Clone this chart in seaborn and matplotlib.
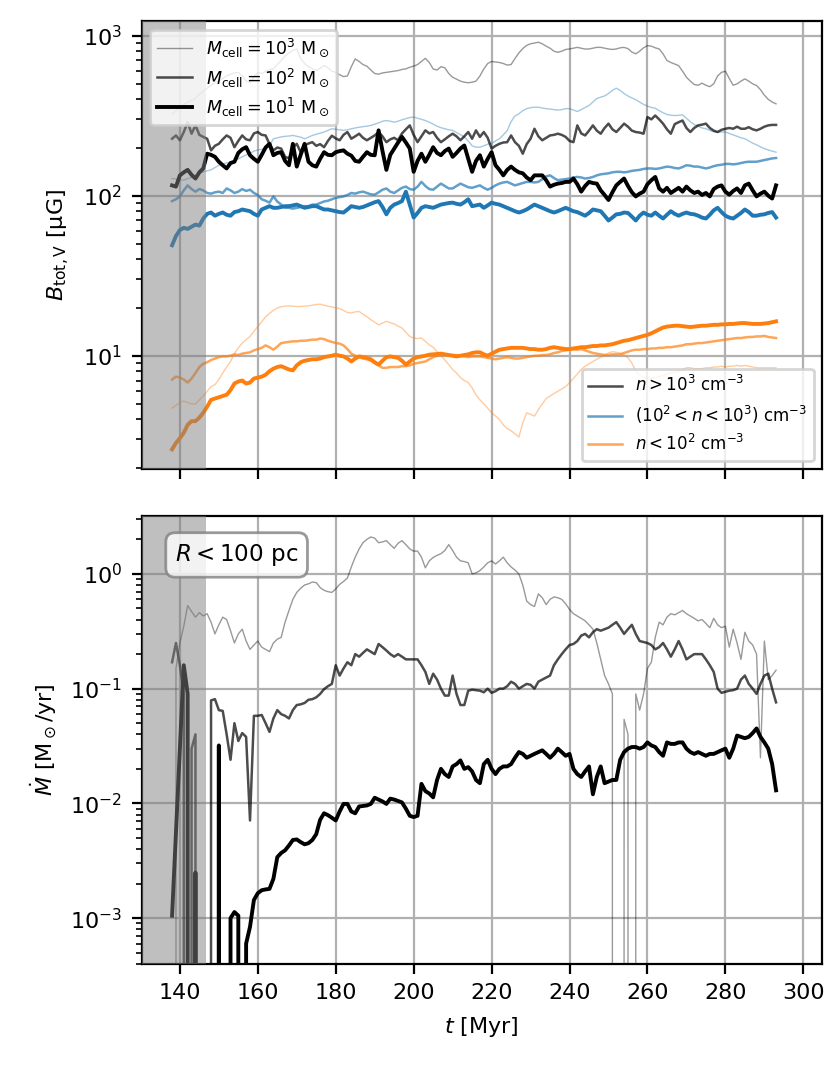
import numpy as np
import matplotlib
matplotlib.use("Agg")
import matplotlib.pyplot as plt
import seaborn as sns
from matplotlib.lines import Line2D

# snapshot times [Myr]
t = np.arange(138, 294)

# B_tot,V [uG] for n > 1e3 cm^-3, one list per cell mass
b_hi_1e3 = [325, 340, 360, 370, 385, 395, 405, 430, 450, 470,
            490, 510, 525, 540, 560, 575, 585, 590, 560, 520,
            510, 550, 590, 580, 600, 615, 620, 660, 700, 745,
            780, 810, 826, 720, 670, 640, 620, 605, 625, 650,
            630, 600, 590, 570, 555, 560, 640, 716, 690, 660,
            645, 610, 580, 575, 585, 590, 595, 600, 605, 615,
            620, 635, 645, 660, 690, 722, 680, 620, 610, 640,
            630, 580, 550, 535, 520, 512, 508, 512, 520, 560,
            620, 670, 690, 685, 680, 670, 655, 660, 720, 780,
            830, 870, 890, 900, 910, 890, 860, 835, 800, 787,
            800, 820, 826, 835, 845, 835, 825, 826, 835, 845,
            845, 835, 826, 820, 826, 840, 845, 830, 790, 770,
            800, 840, 867, 860, 840, 826, 770, 700, 680, 665,
            650, 600, 550, 520, 495, 490, 505, 490, 480, 500,
            560, 590, 600, 540, 490, 500, 520, 537, 520, 500,
            488, 460, 425, 400, 385, 375]
b_hi_1e2 = [227, 238, 222, 250, 288, 244, 275, 240, 233, 227,
            192, 205, 211, 225, 238, 230, 201, 220, 238, 225,
            222, 245, 250, 240, 238, 210, 192, 200, 197, 175,
            171, 200, 211, 187, 206, 212, 216, 205, 210, 201,
            220, 237, 228, 222, 240, 250, 227, 235, 244, 230,
            222, 230, 238, 250, 235, 216, 225, 230, 222, 245,
            260, 275, 240, 216, 235, 256, 245, 250, 230, 216,
            225, 235, 244, 235, 222, 235, 250, 227, 256, 233,
            250, 230, 197, 205, 211, 215, 216, 238, 216, 205,
            183, 210, 227, 262, 235, 222, 230, 238, 240, 244,
            240, 233, 220, 216, 275, 245, 238, 255, 275, 255,
            244, 265, 282, 260, 250, 265, 282, 270, 255, 250,
            248, 244, 310, 300, 317, 300, 282, 260, 244, 280,
            288, 295, 265, 250, 265, 275, 278, 282, 265, 255,
            250, 258, 262, 265, 262, 270, 262, 262, 268, 260,
            256, 262, 270, 275, 277, 277]
b_hi_1e1 = [116, 114, 134, 140, 145, 135, 128, 140, 148, 183,
            180, 175, 163, 155, 148, 160, 163, 185, 195, 201,
            179, 170, 163, 180, 200, 211, 179, 185, 187, 165,
            155, 211, 152, 180, 211, 163, 155, 152, 170, 187,
            180, 179, 187, 190, 192, 183, 178, 165, 163, 175,
            187, 180, 179, 256, 190, 145, 180, 197, 215, 233,
            215, 197, 141, 165, 183, 163, 180, 201, 185, 179,
            190, 197, 175, 185, 197, 206, 170, 141, 165, 179,
            152, 170, 187, 155, 145, 134, 145, 152, 145, 140,
            138, 130, 125, 134, 134, 134, 125, 114, 117, 119,
            120, 122, 122, 128, 118, 106, 115, 122, 120, 119,
            108, 101, 94, 105, 116, 122, 128, 115, 105, 99,
            103, 106, 118, 125, 131, 111, 106, 112, 104, 108,
            112, 106, 114, 108, 104, 106, 101, 104, 99, 110,
            114, 116, 106, 101.5, 107, 111, 104, 116, 119, 108,
            99, 103, 106, 100, 96, 116]

# 1e2 < n < 1e3 cm^-3
b_mid_1e3 = [128, 127, 126, 125, 128, 130, 134, 138, 141, 143,
             145, 150, 155, 158, 160, 162, 165, 170, 175, 180,
             184, 190, 193, 195, 197, 205, 227, 230, 233, 235,
             236, 238, 235, 232, 227, 232, 238, 242, 246, 250,
             256, 262, 260, 258, 256, 258, 262, 265, 268, 270,
             272, 275, 280, 285, 292, 295, 292, 288, 292, 298,
             303, 308, 310, 305, 300, 295, 288, 280, 272, 266,
             262, 258, 256, 248, 240, 233, 220, 205, 201, 201,
             205, 210, 212, 220, 227, 240, 255, 290, 315, 325,
             340, 350, 355, 357, 357, 353, 350, 348, 345, 343,
             345, 350, 350, 343, 336, 345, 356, 366, 385, 405,
             413, 420, 435, 455, 470, 455, 435, 420, 408, 398,
             385, 372, 363, 356, 352, 340, 330, 322, 318, 317,
             318, 320, 305, 290, 278, 272, 265, 262, 256, 251,
             250, 250, 250, 245, 240, 235, 230, 227, 220, 213,
             208, 202, 197, 193, 190, 187]
b_mid_1e2 = [92.5, 95, 99, 108, 116, 110, 106, 110, 108, 104,
             103, 105, 106, 104, 111, 108, 104, 106, 110, 107,
             109, 104, 101, 95, 93, 90.5, 99, 92, 88, 84,
             84, 83, 84, 85, 86, 86, 88, 88, 90, 92,
             93, 95, 97, 98, 99, 101, 104, 103, 105, 106,
             104, 102, 101.5, 105, 109, 111, 106, 104, 108, 112,
             114, 110, 109, 114, 122, 115, 110, 109, 114, 119,
             115, 111, 111, 115, 119, 116, 113, 112, 114, 116,
             112, 109, 112, 116, 119, 121, 122, 119, 116, 118,
             120, 122, 122, 121, 122, 127, 132, 134, 129, 125,
             126, 127, 128, 130, 131, 130, 128, 129, 131, 134,
             136, 137, 138, 140, 141, 141, 140, 141, 143, 144,
             145, 147, 148, 148, 147, 148, 150, 152, 151, 149,
             148, 151, 155, 154, 152, 152, 150, 148, 150, 153,
             155, 156, 158, 158, 157, 158, 160, 162, 163, 163,
             163, 165, 167, 169, 171, 172]
b_mid_1e1 = [49, 56, 61, 63, 62, 64, 66, 65, 72, 77,
             78.5, 75, 77, 78.5, 76, 75, 79, 80, 82, 81,
             80, 77, 75, 82, 84, 86, 84, 84, 85, 86,
             86, 87, 88, 86, 84, 85, 86, 86, 84, 82,
             82, 81, 80, 79, 78.5, 82, 86, 85, 84, 85,
             87, 89, 91, 92.5, 85, 76.5, 84, 88, 90, 92.5,
             106, 88, 73, 78, 84, 86, 85, 84, 86, 88,
             89, 90, 90.5, 89, 88, 91, 95, 86, 87, 88,
             84, 87, 90.5, 89, 88, 86, 84, 82, 80, 78.5,
             80, 82, 85, 88, 86, 84, 82, 80, 78.5, 80,
             82, 84, 82, 80, 79, 77, 75, 78, 82, 81,
             80, 75, 70, 73, 76.5, 77, 78.5, 78, 74, 70,
             75, 78.5, 76, 75, 78.5, 75, 72, 76, 80, 77,
             75, 77, 78.5, 77, 76.5, 75, 73, 72, 76, 81,
             84, 79, 75, 73, 72, 75, 78, 82, 79, 75,
             75, 76, 76.5, 78, 79, 73]

# n < 1e2 cm^-3
b_lo_1e3 = [4.7, 4.9, 5.1, 5.2, 5.1, 5.0, 5.0, 5.3, 5.6, 6.0,
            6.4, 6.6, 7.1, 7.8, 8.5, 9.2, 10.3, 11.2, 12.0, 12.6,
            13.2, 14.2, 15.2, 16.3, 17.5, 18.4, 19.2, 19.9, 20.2, 20.4,
            20.5, 20.4, 20.3, 20.3, 20.4, 20.5, 20.7, 20.9, 21.0, 20.7,
            20.4, 20.2, 19.9, 19.7, 19.2, 18.6, 18.5, 18.8, 18.9, 18.2,
            17.5, 16.8, 16.2, 15.6, 16.0, 16.4, 16.1, 15.8, 15.3, 14.9,
            14.0, 13.2, 12.9, 12.8, 12.9, 12.3, 11.7, 11.3, 10.6, 10.0,
            9.4, 8.8, 8.2, 7.8, 7.3, 7.0, 6.8, 6.3, 5.7, 5.3,
            5.0, 4.7, 4.4, 4.2, 4.0, 3.7, 3.5, 3.4, 3.25, 3.1,
            3.8, 4.4, 4.3, 4.2, 4.6, 5.0, 5.4, 5.6, 5.8, 6.0,
            6.2, 6.4, 6.8, 7.2, 7.7, 8.2, 8.6, 8.9, 9.2, 9.5,
            9.8, 10.1, 10.4, 10.6, 10.5, 10.4, 10.1, 9.7, 9.0, 8.0,
            7.6, 7.3, 7.2, 7.2, 7.3, 7.4, 7.5, 7.7, 7.8, 7.9,
            8.0, 8.2, 8.4, 8.4, 8.3, 8.3, 8.3, 8.4, 8.4, 8.5,
            8.5, 8.6, 8.5, 8.6, 8.6, 8.7, 8.6, 8.7, 8.6, 8.5,
            8.4, 8.4, 8.4, 8.4, 8.4, 8.4]
b_lo_1e2 = [7.1, 7.4, 7.3, 7.1, 6.8, 7.2, 7.8, 8.5, 8.9, 9.1,
            9.4, 9.6, 9.8, 9.9, 9.9, 10.0, 10.2, 10.1, 10.3, 10.4,
            10.5, 10.8, 11.0, 11.2, 11.6, 11.3, 10.9, 11.4, 12.0, 12.1,
            12.2, 12.3, 12.3, 12.4, 12.4, 12.5, 12.6, 12.6, 12.8, 12.7,
            12.4, 12.2, 12.0, 11.9, 11.6, 11.0, 10.3, 10.0, 9.8, 9.6,
            9.5, 9.3, 9.0, 8.7, 8.4, 8.4, 8.5, 8.5, 8.5, 8.6,
            8.6, 8.7, 8.9, 9.0, 9.1, 9.2, 9.5, 9.8, 10.0, 10.1,
            10.1, 10.1, 10.1, 10.1, 10.0, 9.9, 9.8, 9.9, 9.9, 9.9,
            9.8, 9.7, 9.6, 9.5, 9.6, 9.7, 9.8, 9.7, 9.6, 9.6,
            9.7, 9.8, 9.9, 10.0, 10.0, 10.1, 10.1, 10.2, 10.4, 10.5,
            10.7, 10.8, 10.9, 11.0, 10.9, 11.0, 10.8, 10.6, 10.4, 10.3,
            10.2, 10.1, 10.1, 10.2, 10.2, 10.2, 10.4, 10.6, 10.8, 10.9,
            10.9, 11.0, 11.0, 11.1, 11.1, 11.2, 11.2, 11.3, 11.3, 11.4,
            11.5, 11.6, 11.8, 11.8, 11.9, 12.0, 12.0, 12.1, 12.2, 12.3,
            12.4, 12.5, 12.6, 12.7, 12.8, 12.9, 12.9, 13.0, 13.1, 13.1,
            13.2, 13.2, 13.3, 13.1, 13.0, 12.9]
b_lo_1e1 = [2.6, 2.85, 3.05, 3.3, 3.7, 3.9, 3.9, 4.1, 4.4, 4.8,
            5.3, 5.4, 5.5, 5.6, 5.7, 6.1, 6.7, 6.9, 7.0, 6.7,
            6.8, 7.2, 7.3, 7.4, 7.6, 8.0, 8.3, 8.5, 8.6, 8.4,
            8.2, 8.1, 8.7, 9.1, 9.3, 9.4, 9.5, 9.5, 9.6, 9.8,
            9.9, 10.0, 10.15, 10.0, 9.9, 9.6, 9.2, 9.6, 9.9, 9.8,
            9.7, 9.5, 9.1, 8.8, 9.3, 9.8, 9.9, 9.8, 9.7, 9.3,
            8.8, 9.2, 9.6, 9.8, 9.9, 10.0, 10.15, 10.2, 10.25, 10.3,
            10.2, 10.1, 10.0, 9.9, 10.0, 10.1, 10.2, 10.4, 10.5, 10.5,
            10.2, 10.0, 10.3, 10.6, 10.9, 11.0, 11.1, 11.2, 11.2, 11.2,
            11.2, 11.1, 11.0, 11.0, 10.9, 10.9, 11.0, 11.2, 11.3, 11.2,
            11.1, 11.0, 11.0, 11.1, 11.2, 11.3, 11.3, 11.4, 11.5, 11.5,
            11.6, 11.6, 11.7, 11.8, 12.0, 12.2, 12.4, 12.5, 12.7, 12.9,
            13.1, 13.3, 13.5, 13.8, 14.2, 14.6, 15.0, 15.2, 15.3, 15.4,
            15.4, 15.3, 15.2, 15.1, 15.2, 15.3, 15.4, 15.4, 15.5, 15.6,
            15.6, 15.7, 15.7, 15.8, 15.8, 15.9, 16.0, 16.0, 15.9, 15.8,
            15.8, 15.8, 15.9, 16.0, 16.2, 16.4]

# Mdot within R < 100 pc [Msun/yr], zeros drop out of the log axis
mdot_1e3 = [0, 0.15, 0.25, 0.35, 0.53, 0.47, 0.42, 0.46, 0.43, 0.45,
            0.38, 0.30, 0.36, 0.42, 0.40, 0.32, 0.25, 0.30, 0.33, 0.26,
            0.22, 0.24, 0.26, 0.23, 0.22, 0.21, 0.25, 0.27, 0.28, 0.38,
            0.48, 0.60, 0.69, 0.75, 0.80, 0.82, 0.85, 0.84, 0.76, 0.72,
            0.70, 0.69, 0.74, 0.81, 0.86, 0.92, 1.15, 1.4, 1.65, 1.87,
            2.0, 2.1, 2.05, 1.87, 1.9, 1.95, 1.8, 1.67, 1.85, 1.95,
            1.8, 1.65, 1.58, 1.58, 1.4, 1.13, 1.3, 1.39, 1.45, 1.5,
            1.6, 1.8, 1.6, 1.4, 1.3, 1.28, 1.25, 1.0, 1.02, 1.07,
            1.15, 1.25, 1.3, 1.22, 1.3, 1.4, 1.25, 1.15, 1.08, 1.0,
            0.8, 0.58, 0.54, 0.52, 0.67, 0.62, 0.54, 0.60, 0.63, 0.62,
            0.60, 0.55, 0.49, 0.45, 0.43, 0.41, 0.39, 0.36, 0.33, 0.25,
            0.18, 0.13, 0.11, 0.09, 0, 0, 0.054, 0.04, 0, 0.09,
            0.065, 0.09, 0.15, 0.17, 0.28, 0.38, 0.36, 0.42, 0.45, 0.44,
            0.46, 0.48, 0.45, 0.43, 0.41, 0.39, 0.40, 0.37, 0.34, 0.41,
            0.36, 0.34, 0.35, 0.23, 0.33, 0.25, 0.18, 0.31, 0.26, 0.24,
            0.20, 0.025, 0.26, 0.12, 0.13, 0.145]
mdot_1e2 = [0.17, 0.25, 0.16, 0.09, 0, 0.03, 0.04, 0, 0, 0,
            0.079, 0.081, 0.065, 0.064, 0.04, 0.024, 0.05, 0.035, 0.041, 0.038,
            0.0071, 0.058, 0.058, 0.059, 0.05, 0.042, 0.055, 0.065, 0.06, 0.058,
            0.055, 0.065, 0.072, 0.073, 0.075, 0.08, 0.081, 0.084, 0.09, 0.099,
            0.105, 0.11, 0.16, 0.13, 0.15, 0.17, 0.16, 0.2, 0.19, 0.205,
            0.22, 0.21, 0.2, 0.245, 0.23, 0.215, 0.2, 0.19, 0.2, 0.19,
            0.18, 0.18, 0.18, 0.18, 0.16, 0.14, 0.11, 0.135, 0.12, 0.1,
            0.087, 0.087, 0.13, 0.09, 0.072, 0.072, 0.096, 0.098, 0.097, 0.096,
            0.093, 0.1, 0.092, 0.095, 0.1, 0.1, 0.105, 0.115, 0.11, 0.1,
            0.105, 0.11, 0.108, 0.1, 0.115, 0.12, 0.125, 0.13, 0.16, 0.18,
            0.2, 0.22, 0.24, 0.245, 0.26, 0.29, 0.3, 0.28, 0.31, 0.33,
            0.32, 0.33, 0.34, 0.36, 0.38, 0.34, 0.3, 0.33, 0.36, 0.3,
            0.26, 0.255, 0.25, 0.24, 0.22, 0.23, 0.25, 0.22, 0.19, 0.22,
            0.26, 0.22, 0.18, 0.19, 0.2, 0.2, 0.2, 0.18, 0.16, 0.14,
            0.1, 0.092, 0.094, 0.096, 0.097, 0.1, 0.12, 0.13, 0.11, 0.1,
            0.09, 0.11, 0.13, 0.135, 0.1, 0.076]
mdot_1e1 = [0.00105, 0.0055, 0.03, 0.16, 0.09, 0, 0.0025, 0, 0, 0,
            0, 0, 0.032, 0, 0, 0.001, 0.00113, 0.00105, 0, 0.0006,
            0.00084, 0.00144, 0.00165, 0.00175, 0.00178, 0.0018, 0.0022, 0.0034, 0.0037, 0.0039,
            0.0043, 0.0048, 0.00485, 0.0046, 0.0044, 0.0045, 0.0048, 0.0054, 0.0072, 0.0082,
            0.0079, 0.0075, 0.0071, 0.0085, 0.0099, 0.0099, 0.0085, 0.0082, 0.0094, 0.0095,
            0.0096, 0.0099, 0.0112, 0.0108, 0.0104, 0.0099, 0.011, 0.0108, 0.0105, 0.0102,
            0.009, 0.0078, 0.0076, 0.0078, 0.0148, 0.0128, 0.0122, 0.0113, 0.016, 0.02,
            0.018, 0.017, 0.021, 0.022, 0.0237, 0.02, 0.0207, 0.019, 0.016, 0.015,
            0.022, 0.024, 0.02, 0.018, 0.02, 0.021, 0.021, 0.022, 0.025, 0.028,
            0.027, 0.025, 0.026, 0.027, 0.028, 0.029, 0.027, 0.025, 0.027, 0.03,
            0.028, 0.026, 0.027, 0.02, 0.018, 0.017, 0.019, 0.021, 0.012, 0.017,
            0.021, 0.015, 0.0155, 0.016, 0.016, 0.024, 0.028, 0.03, 0.031, 0.031,
            0.03, 0.031, 0.034, 0.032, 0.031, 0.028, 0.026, 0.034, 0.033, 0.033,
            0.034, 0.034, 0.03, 0.028, 0.027, 0.028, 0.027, 0.026, 0.027, 0.027,
            0.028, 0.029, 0.03, 0.025, 0.03, 0.039, 0.038, 0.037, 0.038, 0.041,
            0.045, 0.038, 0.034, 0.03, 0.022, 0.013]

res_labels = [r"$M_\mathrm{cell} = 10^3\ \mathrm{M}_\odot$",
              r"$M_\mathrm{cell} = 10^2\ \mathrm{M}_\odot$",
              r"$M_\mathrm{cell} = 10^1\ \mathrm{M}_\odot$"]
dens_labels = [r"$n > 10^3\ \mathrm{cm}^{-3}$",
               r"$(10^2 < n < 10^3)\ \mathrm{cm}^{-3}$",
               r"$n < 10^2\ \mathrm{cm}^{-3}$"]

plt.rcParams['font.size'] = 8

widths = [0.5, 0.9, 1.4]
alphas = [0.4, 0.7, 1.0]
colors = ['k', 'C0', 'C1']

bfield = [[b_hi_1e3, b_mid_1e3, b_lo_1e3],
          [b_hi_1e2, b_mid_1e2, b_lo_1e2],
          [b_hi_1e1, b_mid_1e1, b_lo_1e1]]
mdot = [mdot_1e3, mdot_1e2, mdot_1e1]

fig = plt.figure(figsize=(4.155, 5.36), dpi=200)
ax1 = fig.add_axes([0.1705, 0.5622, 0.8187, 0.4182])
ax2 = fig.add_axes([0.1705, 0.1007, 0.8187, 0.418], sharex=ax1)

for i in range(3):
    for j in range(3):
        sns.lineplot(x=t, y=bfield[i][j], ax=ax1, color=colors[j], lw=widths[i],
                     alpha=alphas[i], estimator=None, sort=False, legend=False)
    sns.lineplot(x=t, y=mdot[i], ax=ax2, color='k', lw=widths[i],
                 alpha=alphas[i], estimator=None, sort=False, legend=False)

for ax in (ax1, ax2):
    ax.set_yscale('log')
    ax.axvspan(130, 146.7, color='gray', alpha=0.5, lw=0, zorder=3)
    ax.grid(True)

ax1.set_xlim(130.2, 304.8)
ax1.set_ylim(1.95, 1235)
ax2.set_ylim(3.98e-4, 3.2)
ax1.tick_params(labelbottom=False)

ax1.set_ylabel(r"$B_\mathrm{tot,V}$ [μG]")
ax2.set_ylabel(r"$\dot{M}$ [M$_\odot$/yr]")
ax2.set_xlabel(r"$t$ [Myr]")
ax1.set_xlabel("")

h1 = [Line2D([], [], color='k', lw=widths[i], alpha=alphas[i]) for i in range(3)]
leg1 = ax1.legend(h1, res_labels, loc='upper left', fontsize=6.3, labelspacing=0.4)
h2 = [Line2D([], [], color=c, lw=widths[1], alpha=alphas[1]) for c in colors]
leg2 = ax1.legend(h2, dens_labels, loc='lower right', fontsize=6)
ax1.add_artist(leg1)

ax2.text(0.049, 0.942, r"$R < 100$ pc", transform=ax2.transAxes, ha='left', va='top',
         fontsize=8.3, zorder=10,
         bbox=dict(boxstyle='round,pad=0.4', facecolor='white', edgecolor='gray',
                   alpha=0.8, lw=1.0))

fig.savefig('out.png', dpi=200)
